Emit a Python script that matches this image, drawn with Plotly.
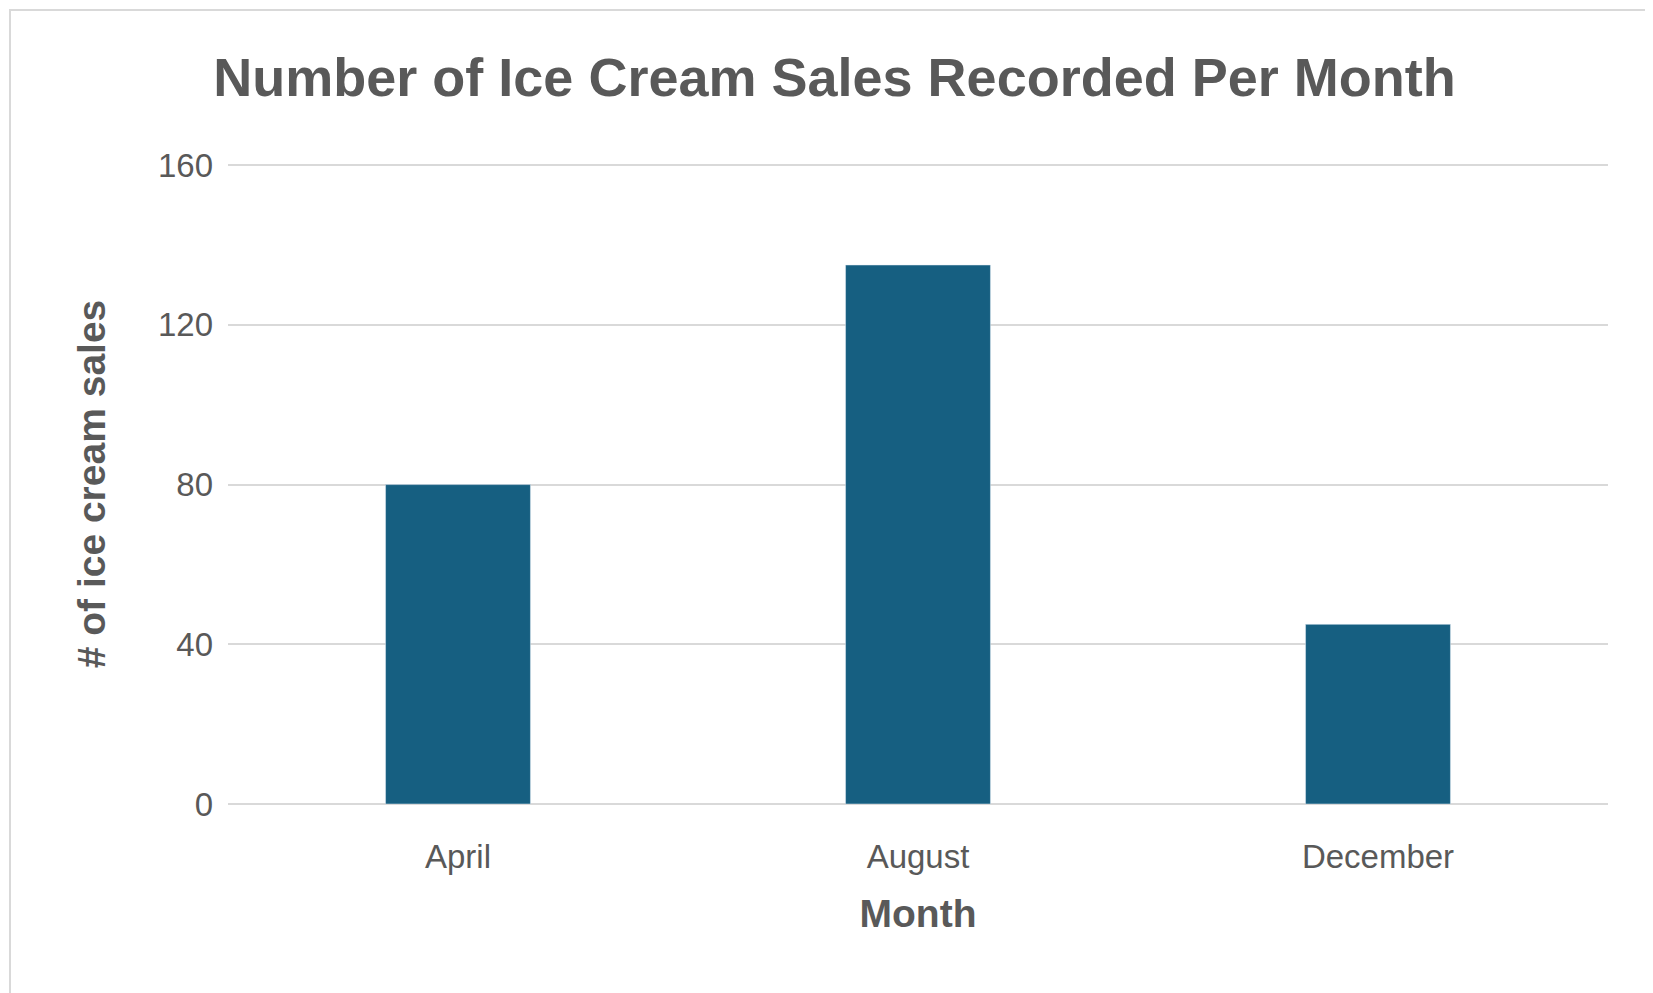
import plotly.graph_objects as go

months = ["April", "August", "December"]
sales = [80, 135, 45]
yticks = [0, 40, 80, 120, 160]

fig = go.Figure(go.Bar(x=months, y=sales, marker_color="#165F81", width=0.315))
fig.update_layout(
    width=1653, height=993,
    margin=dict(l=220, r=53, t=156, b=197),
    paper_bgcolor="white", plot_bgcolor="white",
    font=dict(family="Liberation Sans, Arial", color="#595959"),
    title=dict(text="<b>Number of Ice Cream Sales Recorded Per Month</b>",
               x=0.5, xanchor="center", y=0.93, yanchor="middle",
               font=dict(size=54, color="#595959")),
    showlegend=False,
    shapes=[dict(type="rect", xref="paper", yref="paper", x0=-218/1380, x1=1+51/1380,
                 y0=-195/640, y1=1+154/640, line=dict(color="#D9D9D9", width=2))],
)
fig.update_yaxes(range=[0, 160.3], tickvals=yticks, showgrid=True, gridcolor="#D9D9D9",
                 gridwidth=2, zeroline=True, zerolinecolor="#D9D9D9", zerolinewidth=2,
                 tickfont=dict(size=33), ticklen=0, ticklabelstandoff=14,
                 title=dict(text="<b># of ice cream sales</b>", font=dict(size=39), standoff=40))
fig.update_xaxes(showline=False, tickfont=dict(size=33), ticklabelstandoff=30,
                 title=dict(text="<b>Month</b>", font=dict(size=39), standoff=25))
fig.write_html("out.html")
